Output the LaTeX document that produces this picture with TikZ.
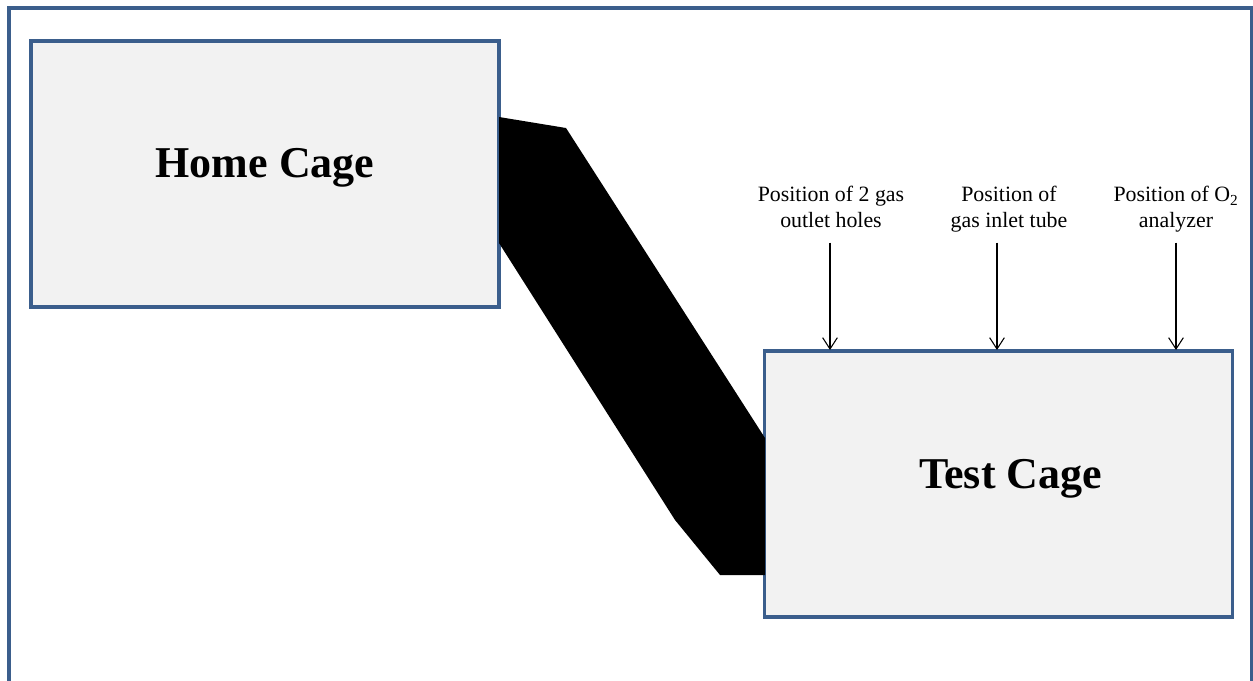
\documentclass[tikz,border=0pt]{standalone}
\usepackage{fontspec}
\setmainfont{Liberation Serif}
\usetikzlibrary{arrows.meta,positioning}
\definecolor{frameblue}{RGB}{59,94,140}
\definecolor{cagefill}{RGB}{242,242,242}
\tikzset{
  >={Straight Barb[length=8.5pt,width=11pt]},
  cage/.style={draw=frameblue,fill=cagefill,line width=2.3pt,
    minimum width=351pt,minimum height=199.5pt,inner sep=0pt},
  cage name/.style={font=\fontsize{33}{40}\selectfont\bfseries,anchor=base},
  note/.style={font=\fontsize{16.4}{19.5}\selectfont,align=center,inner sep=0pt,anchor=base},
  pointer/.style={->,line width=0.8pt,draw=black},
}

\begin{document}
\begin{tikzpicture}[x=0.75pt,y=-0.75pt]
  \useasboundingbox (0,0) rectangle (1253,681);
  \draw[frameblue,line width=2.3pt] (9,700) -- (9,8) -- (1252,8) -- (1252,700);
  \node[cage] (home) at (265,174) {};
  \node[cage] (test) at (998.5,484) {};
  \node[cage name] at ([yshift=-3pt]home.center) {Home Cage};
  \node[cage name] at ([xshift=9pt,yshift=-3pt]test.center) {Test Cage};
  % tube between the cages
  \fill[black] (499,117) -- (566,128) -- (765,438) -- (765,575) -- (720,575)
    -- (675,520) -- (499,243) -- cycle;
  \foreach \ax/\lx/\t [count=\k] in {830/831/{Position of 2 gas\\outlet holes},
                                     997/1009/{Position of\\gas inlet tube},
                                     1176/1176/{Position of O\textsubscript{2}\\analyzer}}{
    \node[note] (lab\k) at (\lx,228) {\t};
    \coordinate (in\k) at (\ax,350);
    \draw[pointer] ([yshift=-11pt]lab\k.base -| in\k) -- (in\k);
  }
\end{tikzpicture}
\end{document}
